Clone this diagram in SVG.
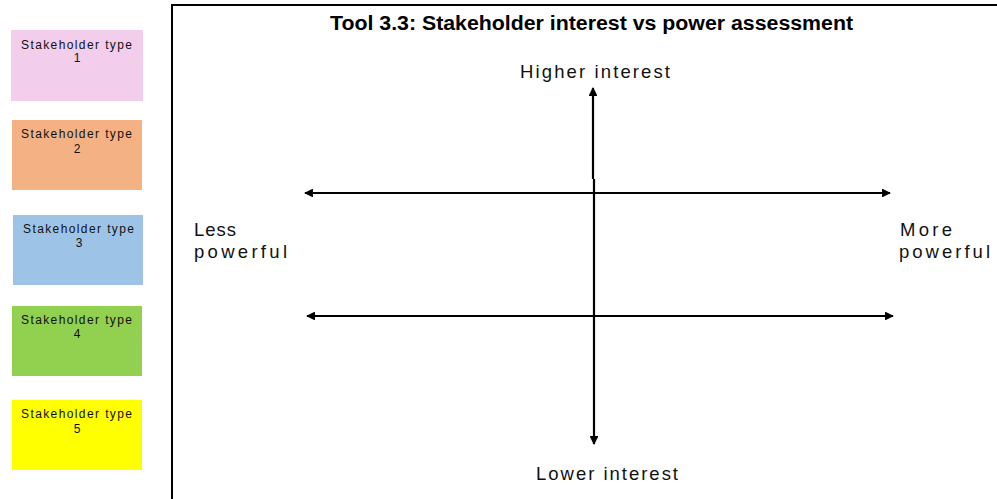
<svg xmlns="http://www.w3.org/2000/svg" width="997" height="499" viewBox="0 0 997 499">
  <style>
    .box { stroke: none; }
    .lbl { font-family: "Liberation Sans", Arial, sans-serif; font-size: 12px; fill: #111; }
    .num { font-family: "Liberation Sans", Arial, sans-serif; font-size: 12px; fill: #111; text-anchor: middle; }
    .axis { font-family: "Liberation Sans", Arial, sans-serif; font-size: 18.5px; fill: #111; }
    .title { font-family: "Liberation Sans", Arial, sans-serif; font-size: 19.5px; font-weight: bold; fill: #000; }
    .ln { stroke: #000; stroke-width: 2.2; fill: none; }
  </style>
  <defs>
    <marker id="arr" viewBox="0 0 10 10" refX="9" refY="5" markerWidth="4" markerHeight="4" orient="auto-start-reverse" markerUnits="strokeWidth">
      <path d="M0,0 L10,5 L0,10 z" fill="#000"/>
    </marker>
  </defs>
  <rect width="997" height="499" fill="#fff"/>

  <!-- assessment frame -->
  <rect x="172" y="5" width="840" height="510" fill="none" stroke="#000" stroke-width="2"/>
  <text class="title" x="330" y="30" textLength="523" lengthAdjust="spacingAndGlyphs">Tool 3.3: Stakeholder interest vs power assessment</text>

  <!-- stakeholder legend -->
  <g id="type1">
    <rect class="box" x="11" y="30" width="132" height="71" fill="#f2cdec"/>
    <text class="lbl" x="21" y="48.5" textLength="111" lengthAdjust="spacing">Stakeholder type</text>
    <text class="num" x="77" y="62">1</text>
  </g>
  <g id="type2">
    <rect class="box" x="12" y="120" width="130" height="70" fill="#f4b183"/>
    <text class="lbl" x="21" y="138" textLength="111" lengthAdjust="spacing">Stakeholder type</text>
    <text class="num" x="77" y="153">2</text>
  </g>
  <g id="type3">
    <rect class="box" x="13" y="215" width="130" height="70" fill="#9dc3e6"/>
    <text class="lbl" x="23" y="233" textLength="111" lengthAdjust="spacing">Stakeholder type</text>
    <text class="num" x="79" y="247">3</text>
  </g>
  <g id="type4">
    <rect class="box" x="12" y="306" width="130" height="70" fill="#92d050"/>
    <text class="lbl" x="21" y="324" textLength="111" lengthAdjust="spacing">Stakeholder type</text>
    <text class="num" x="77" y="338">4</text>
  </g>
  <g id="type5">
    <rect class="box" x="12" y="400" width="130" height="70" fill="#ffff00"/>
    <text class="lbl" x="21" y="418" textLength="111" lengthAdjust="spacing">Stakeholder type</text>
    <text class="num" x="77" y="433">5</text>
  </g>

  <!-- axes -->
  <g id="connectors">
    <line class="ln" x1="593" y1="179" x2="593" y2="88" marker-end="url(#arr)"/>
    <line class="ln" x1="594" y1="179" x2="594" y2="444" marker-end="url(#arr)"/>
    <line class="ln" x1="305" y1="193" x2="890" y2="193" marker-start="url(#arr)" marker-end="url(#arr)"/>
    <line class="ln" x1="307" y1="316" x2="893" y2="316" marker-start="url(#arr)" marker-end="url(#arr)"/>
  </g>

  <!-- axis labels -->
  <g id="axis-labels">
    <text class="axis" x="520" y="78" textLength="150" lengthAdjust="spacing">Higher interest</text>
    <text class="axis" x="536" y="480" textLength="142" lengthAdjust="spacing">Lower interest</text>
    <text class="axis" x="194" y="236" textLength="42" lengthAdjust="spacing">Less</text>
    <text class="axis" x="194" y="258" textLength="93" lengthAdjust="spacing">powerful</text>
    <text class="axis" x="900" y="236" textLength="52" lengthAdjust="spacing">More</text>
    <text class="axis" x="899" y="258" textLength="91" lengthAdjust="spacing">powerful</text>
  </g>
</svg>
